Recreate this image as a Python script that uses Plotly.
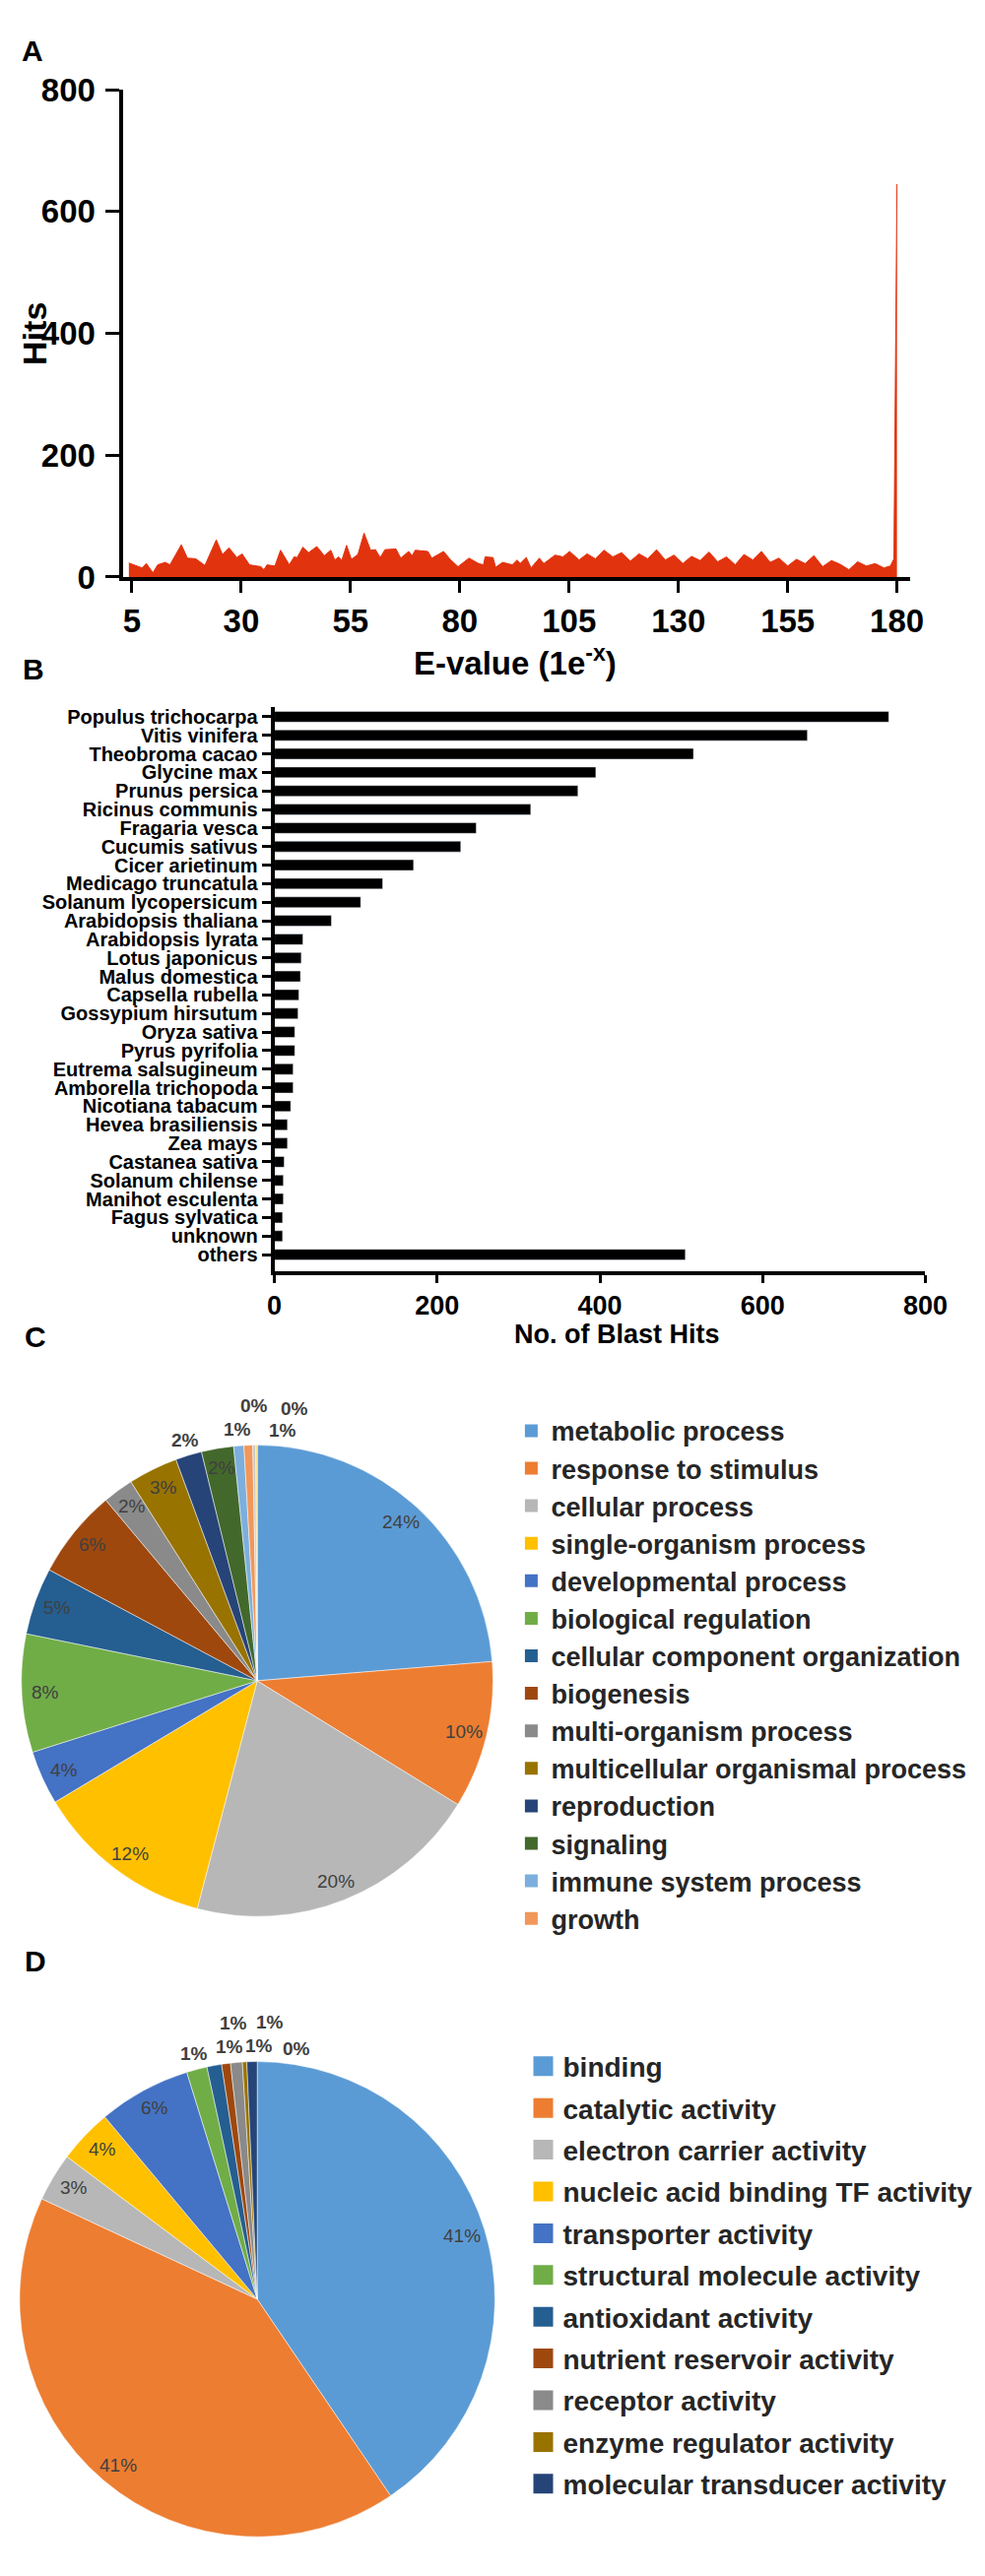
import math
import plotly.graph_objects as go

W, H = 1000, 2616
FONT = "Liberation Sans, Arial, Helvetica, sans-serif"

# ---------------- Panel A data ----------------
evalue = [4.3, 6.0, 7.3, 8.3, 9.8, 10.9, 12.6, 13.7, 16.3, 17.7, 19.6, 21.7, 24.3, 25.7, 27.2, 29.0,
          30.2, 31.9, 34.5, 35.2, 35.9, 37.7, 39.0, 41.0, 42.1, 42.8, 44.1, 45.4, 47.3, 49.0, 50.5,
          51.4, 52.3, 53.0, 54.1, 55.2, 56.7, 58.1, 59.6, 60.7, 61.8, 62.9, 65.4, 66.5, 68.3, 69.1,
          69.8, 72.7, 73.6, 76.3, 77.8, 79.6, 82.1, 84.3, 85.4, 85.8, 87.6, 88.2, 89.8, 92.0, 93.1,
          93.8, 95.2, 96.3, 98.2, 99.2, 101.8, 103.6, 105.1, 107.3, 109.1, 111, 113, 115, 117, 119,
          121, 123, 125, 127, 129, 131, 133, 135, 137, 139, 141, 143, 145, 147, 149, 151, 153, 155,
          157, 159, 161, 163, 165, 167, 169, 171, 173, 175, 177, 178.5, 179.3, 180]
hits = [23, 19, 15, 22, 7, 20, 24, 20, 53, 31, 30, 19, 61, 37, 48, 32,
        38, 20, 17, 12, 20, 18, 44, 20, 33, 32, 49, 40, 50, 35, 44,
        28, 33, 27, 52, 29, 37, 72, 44, 45, 32, 45, 46, 31, 42, 35,
        44, 42, 31, 42, 29, 17, 31, 22, 20, 33, 32, 16, 24, 20, 28,
        22, 32, 15, 31, 22, 36, 33, 42, 28, 38, 30, 44, 33, 40, 26,
        38, 30, 45, 28, 36, 22, 34, 27, 41, 25, 33, 20, 37, 28, 42, 24, 31, 18,
        29, 22, 35, 17, 27, 21, 12, 25, 18, 22, 15, 18, 30, 645]
a_ticks = [5, 30, 55, 80, 105, 130, 155, 180]
a_yticks = [0, 200, 400, 600, 800]

# ---------------- Panel B data ----------------
species = ["Populus trichocarpa", "Vitis vinifera", "Theobroma cacao", "Glycine max",
           "Prunus persica", "Ricinus communis", "Fragaria vesca", "Cucumis sativus",
           "Cicer arietinum", "Medicago truncatula", "Solanum lycopersicum",
           "Arabidopsis thaliana", "Arabidopsis lyrata", "Lotus japonicus", "Malus domestica",
           "Capsella rubella", "Gossypium hirsutum", "Oryza sativa", "Pyrus pyrifolia",
           "Eutrema salsugineum", "Amborella trichopoda", "Nicotiana tabacum",
           "Hevea brasiliensis", "Zea mays", "Castanea sativa", "Solanum chilense",
           "Manihot esculenta", "Fagus sylvatica", "unknown", "others"]
blast_hits = [755, 655, 515, 395, 373, 315, 248, 229, 171, 133, 106, 70, 35, 33, 32, 30, 29,
              25, 25, 23, 23, 20, 16, 16, 12, 11, 11, 10, 10, 505]
b_ticks = [0, 200, 400, 600, 800]

# ---------------- Panel C data ----------------
bp_terms = ["metabolic process", "response to stimulus", "cellular process",
            "single-organism process", "developmental process", "biological regulation",
            "cellular component organization", "biogenesis", "multi-organism process",
            "multicellular organismal process", "reproduction", "signaling",
            "immune system process", "growth", "(other 1)", "(other 2)"]
bp_pct = [23.7, 10.1, 20.3, 12.3, 3.7, 8.1, 4.6, 6.1, 2.1, 3.4, 1.8, 2.2, 0.7, 0.6, 0.2, 0.1]
bp_legend_count = 14

# ---------------- Panel D data ----------------
mf_terms = ["binding", "catalytic activity", "electron carrier activity",
            "nucleic acid binding TF activity", "transporter activity",
            "structural molecule activity", "antioxidant activity",
            "nutrient reservoir activity", "receptor activity",
            "enzyme regulator activity", "molecular transducer activity"]
mf_pct = [40.6, 41.5, 3.3, 3.7, 6.3, 1.4, 1.0, 0.6, 0.8, 0.3, 0.7]

excel_colors = ["#5B9BD5", "#ED7D31", "#B7B7B7", "#FFC000", "#4472C4", "#70AD47",
                "#255E91", "#9E480E", "#8A8A8A", "#997300", "#264478", "#43682B",
                "#7CAFDD", "#F1975A", "#C8C8C8", "#FFD966"]


def py(y):
    return 1 - y / H


# pie geometry in pixels (left, right, top, bottom)
C_BOX = (6, 500, 1458, 1952)
D_BOX = (4, 502, 2093, 2591)

fig = go.Figure()

# Panel A
fig.add_trace(go.Scatter(x=evalue, y=hits, mode="lines", fill="tozeroy",
                         line=dict(color="#E2330F", width=1), fillcolor="#E2330F",
                         xaxis="x", yaxis="y", showlegend=False, hoverinfo="x+y"))

# Panel B
fig.add_trace(go.Bar(x=blast_hits, y=species, orientation="h", marker_color="black",
                     width=0.58, xaxis="x2", yaxis="y2", showlegend=False))


def add_pie(labels, values, colors, box):
    l, r, t, b = box
    fig.add_trace(go.Pie(labels=labels, values=values, sort=False, direction="clockwise",
                         rotation=0, marker=dict(colors=colors, line=dict(color="white", width=0.5)),
                         domain=dict(x=[l / W, r / W], y=[py(b), py(t)]),
                         textinfo="none", showlegend=False,
                         hovertemplate="%{label}: %{percent:.0%}<extra></extra>"))


def pie_label_annotations(values, box, inside_min=2.0, fsize=19):
    l, r, t, b = box
    cx, cy = (l + r) / 2, (t + b) / 2
    R = min(r - l, b - t) / 2
    total = float(sum(values))
    cum = 0.0
    placed = []
    bw, bh = 30, 20
    for v in values:
        frac = v / total
        mid = (cum + frac / 2) * 360.0
        cum += frac
        txt = "%d%%" % round(frac * 100)
        if frac * 100 >= inside_min:
            rr = 0.9 * R
            x = cx + rr * math.sin(math.radians(mid))
            y = cy - rr * math.cos(math.radians(mid))
            bold = "normal"
        else:
            r0 = 1.05 * R
            cands = []
            for i in range(0, 10):
                for j in (0, 1, -1, 2, -2, 3, -3):
                    cands.append((i + abs(j), i, j))
            cands.sort(key=lambda c: c[0])
            for _, i, j in cands:
                rr = r0 + 12 * i
                ang = math.radians(mid + 4 * j)
                x = cx + rr * math.sin(ang)
                y = cy - rr * math.cos(ang)
                if all(abs(x - px_) >= bw or abs(y - py_) >= bh for px_, py_ in placed):
                    break
            placed.append((x, y))
            bold = "bold"
        fig.add_annotation(text=txt, x=x / W, y=py(y), xref="paper", yref="paper",
                           showarrow=False, xanchor="center", yanchor="middle",
                           font=dict(size=fsize, family=FONT, color="#404040", weight=bold))


add_pie(bp_terms, bp_pct, excel_colors, C_BOX)
add_pie(mf_terms, mf_pct, excel_colors[:len(mf_terms)], D_BOX)
pie_label_annotations(bp_pct, C_BOX)
pie_label_annotations(mf_pct, D_BOX)

# Legend entries (squares) for C and D
for i, name in enumerate(bp_terms[:bp_legend_count]):
    fig.add_trace(go.Scatter(x=[None], y=[None], mode="markers", name=name,
                             marker=dict(symbol="square", size=13, color=excel_colors[i]),
                             xaxis="x3", yaxis="y3", legend="legend", hoverinfo="skip"))
for i, name in enumerate(mf_terms):
    fig.add_trace(go.Scatter(x=[None], y=[None], mode="markers", name=name,
                             marker=dict(symbol="square", size=16, color=excel_colors[i],
                                         line=dict(color=excel_colors[i], width=4)),
                             xaxis="x3", yaxis="y3", legend="legend2", legendgroup="d%d" % i,
                             hoverinfo="skip"))

axis_common = dict(showgrid=False, zeroline=False, showline=True, linecolor="black",
                   ticks="outside", tickcolor="black")

fig.update_layout(
    width=W, height=H, margin=dict(l=0, r=0, t=0, b=0),
    paper_bgcolor="white", plot_bgcolor="white",
    font=dict(family=FONT, color="black"),
    xaxis=dict(domain=[0.113, 0.937], range=[3.1, 183], anchor="y",
               tickvals=a_ticks, ticklen=12, tickwidth=3, linewidth=4,
               tickfont=dict(size=33, family=FONT, color="black", weight="bold"), **axis_common),
    yaxis=dict(domain=[py(568), py(66)], range=[0, 800], anchor="x",
               tickvals=a_yticks, ticklen=14, tickwidth=3, linewidth=4, ticklabelstandoff=4,
               tickfont=dict(size=33, family=FONT, color="black", weight="bold"), **axis_common),
    xaxis2=dict(domain=[0.271, 0.953], range=[0, 800], anchor="y2",
                tickvals=b_ticks, ticklen=8, tickwidth=3, linewidth=4,
                tickfont=dict(size=27, family=FONT, color="black", weight="bold"), **axis_common),
    yaxis2=dict(domain=[py(1283), py(702)], range=[29.89, -0.52], anchor="x2",
                type="category", tickmode="linear", tick0=0, dtick=1,
                ticklen=9, tickwidth=2.5, linewidth=4,
                tickfont=dict(size=20, family=FONT, color="black", weight="bold"), **axis_common),
    xaxis3=dict(visible=False, domain=[0, 0.01]),
    yaxis3=dict(visible=False, domain=[0, 0.01], anchor="x3"),
    legend=dict(x=0.5195, y=py(1423), xanchor="left", yanchor="top",
                bgcolor="rgba(0,0,0,0)", tracegroupgap=0,
                font=dict(size=27, family=FONT, color="#262626", weight="bold")),
    legend2=dict(x=0.532, y=py(2077), xanchor="left", yanchor="top",
                 bgcolor="rgba(0,0,0,0)", tracegroupgap=3,
                 font=dict(size=28, family=FONT, color="#262626", weight="bold")),
)

for txt, x, y in [("A", 18, 26), ("B", 19, 663), ("C", 21, 1351), ("D", 21, 1994)]:
    fig.add_annotation(text=txt, x=x / W, y=py(y), xref="paper", yref="paper",
                       showarrow=False, xanchor="center", yanchor="middle",
                       font=dict(size=30, family=FONT, color="black", weight="bold"))

fig.add_annotation(text="Hits", x=19 / W, y=py(317), xref="paper", yref="paper",
                   showarrow=False, textangle=-90, xanchor="center", yanchor="middle",
                   font=dict(size=34, family=FONT, color="black", weight="bold"))
fig.add_annotation(text="E-value (1e<sup>-x</sup>)", x=523 / W, y=py(654), xref="paper",
                   yref="paper", showarrow=False, xanchor="center", yanchor="middle",
                   font=dict(size=33, family=FONT, color="black", weight="bold"))
fig.add_annotation(text="No. of Blast Hits", x=630 / W, y=py(1348), xref="paper",
                   yref="paper", showarrow=False, xanchor="center", yanchor="middle",
                   font=dict(size=27, family=FONT, color="black", weight="bold"))

fig.write_html("out.html")
